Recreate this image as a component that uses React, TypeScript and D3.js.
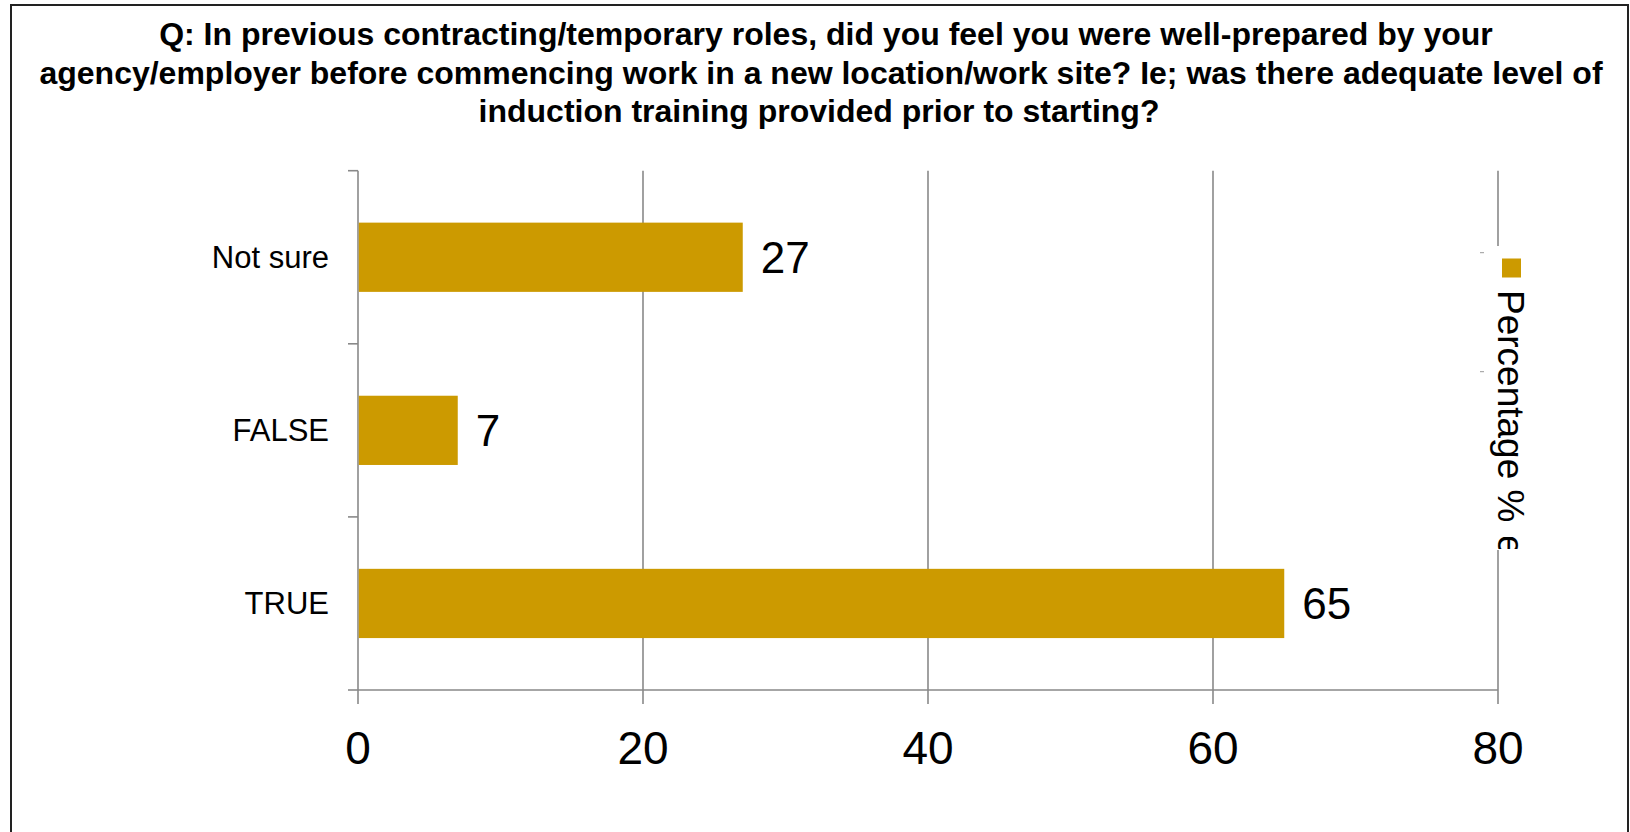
import React from "react";
import * as d3 from "d3";

const categories = ["Not sure", "FALSE", "TRUE"];
const values = [27, 7, 65];
const xTicks = [0, 20, 40, 60, 80];
const titleLines = [
  "Q: In previous contracting/temporary roles, did you feel you were well-prepared by your",
  "agency/employer before commencing work in a new location/work site? Ie; was there adequate level of",
  "induction training provided prior to starting?",
];
const legendLabel = "Percentage %";

const W = 1630;
const H = 832;
const FONT = "'Liberation Sans', Arial, Helvetica, sans-serif";
const BAR = "#cc9a00";
const GRID = "#898989";

export default function App() {
  const x = d3.scaleLinear().domain([0, 80]).range([358, 1498]);
  const y = d3
    .scaleBand<string>()
    .domain(categories)
    .range([170.7, 690])
    .paddingInner(0.6)
    .paddingOuter(0.3);
  const top = 170.7;
  const bottom = 690;
  const step = y.step();
  const bandEdges = d3.range(categories.length + 1).map((i) => top + i * step);
  const titleX = [826, 821, 819];

  return (
    <svg
      width={W}
      height={H}
      style={{ position: "absolute", left: 0, top: 0, background: "#fff" }}
      fontFamily={FONT}
    >
      <rect x={0} y={0} width={W} height={H} fill="#fff" />
      {/* outer frame */}
      <path d={`M11,${H + 2} L11,5 L1628,5 L1628,${H + 2}`} fill="none" stroke="#222" strokeWidth={2} />

      {/* title */}
      {titleLines.map((t, i) => (
        <text
          key={i}
          x={titleX[i]}
          y={45 + i * 38.5}
          textAnchor="middle"
          fontSize={32}
          fontWeight="bold"
          fill="#000"
        >
          {t}
        </text>
      ))}

      {/* gridlines */}
      {xTicks.map((t) => (
        <line
          key={t}
          x1={x(t)}
          x2={x(t)}
          y1={top}
          y2={bottom + 14}
          stroke={GRID}
          strokeWidth={1.6}
        />
      ))}
      {/* x axis */}
      <line x1={x(0)} x2={x(80)} y1={bottom} y2={bottom} stroke={GRID} strokeWidth={1.6} />
      {/* y ticks */}
      {bandEdges.map((e, i) => (
        <line key={i} x1={348} x2={x(0)} y1={e} y2={e} stroke={GRID} strokeWidth={1.6} />
      ))}

      {/* bars */}
      {categories.map((c, i) => (
        <rect
          key={c}
          x={x(0) + 0.8}
          y={y(c)}
          width={x(values[i]) - x(0) - 0.8}
          height={y.bandwidth()}
          fill={BAR}
        />
      ))}

      {/* value labels */}
      {categories.map((c, i) => (
        <text
          key={c}
          x={x(values[i]) + 18}
          y={(y(c) as number) + y.bandwidth() / 2}
          dy="0.36em"
          fontSize={44}
          fill="#000"
        >
          {values[i]}
        </text>
      ))}

      {/* category labels */}
      {categories.map((c) => (
        <text
          key={c}
          x={329}
          y={(y(c) as number) + y.bandwidth() / 2}
          dy="0.34em"
          textAnchor="end"
          fontSize={31}
          fill="#000"
        >
          {c}
        </text>
      ))}

      {/* x tick labels */}
      {xTicks.map((t) => (
        <text key={t} x={x(t)} y={764} textAnchor="middle" fontSize={46} fill="#000">
          {t}
        </text>
      ))}

      {/* legend */}
      <rect x={1478} y={246} width={54} height={304} fill="#fff" />
      <line x1={1480} x2={1484} y1={252.7} y2={252.7} stroke="#999" strokeWidth={1} />
      <line x1={1480} x2={1484} y1={371.7} y2={371.7} stroke="#999" strokeWidth={1} />
      <rect x={1502} y={258.5} width={19} height={19} fill={BAR} />
      <text
        transform="translate(1498,290) rotate(90)"
        fontSize={37}
        fill="#000"
      >
        {legendLabel}
      </text>
      <defs>
        <clipPath id="legclip">
          <rect x={1478} y={537} width={54} height={12} />
        </clipPath>
      </defs>
      <g clipPath="url(#legclip)">
        <text transform="translate(1498,535) rotate(90)" fontSize={37} fill="#000">
          e'
        </text>
      </g>
    </svg>
  );
}
